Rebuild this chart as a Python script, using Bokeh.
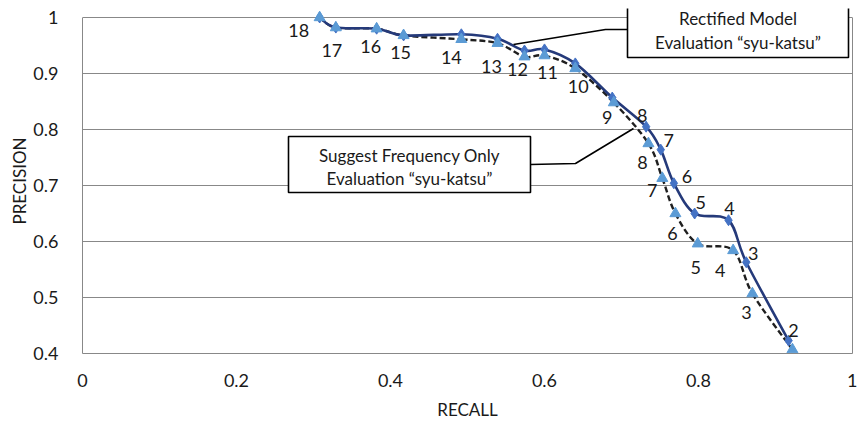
from bokeh.plotting import figure
from bokeh.models import ColumnDataSource, FixedTicker, LinearAxis, Range1d
from bokeh.core.properties import value
from bokeh.embed import file_html
from bokeh.resources import INLINE

# ---- data ----
labels = ["18", "17", "16", "15", "14", "13", "12", "11", "10", "9", "8", "7", "6", "5", "4", "3", "2"]
recall_rect = [0.308, 0.329, 0.382, 0.417, 0.492, 0.539, 0.574, 0.600, 0.640, 0.688, 0.732, 0.751, 0.768, 0.795, 0.839, 0.862, 0.917]
prec_rect = [1.000, 0.982, 0.980, 0.968, 0.970, 0.962, 0.941, 0.943, 0.918, 0.857, 0.805, 0.764, 0.704, 0.650, 0.638, 0.563, 0.423]
recall_sug = [0.308, 0.329, 0.382, 0.417, 0.492, 0.539, 0.574, 0.600, 0.640, 0.690, 0.735, 0.753, 0.770, 0.799, 0.845, 0.870, 0.922]
prec_sug = [1.000, 0.982, 0.980, 0.968, 0.961, 0.954, 0.930, 0.932, 0.909, 0.848, 0.775, 0.713, 0.650, 0.596, 0.584, 0.507, 0.407]
sug_label_names = ["8", "7", "6", "5", "4", "3"]
x_ticks = [0, 0.2, 0.4, 0.6, 0.8, 1]
x_tick_labels = ["0", "0.2", "0.4", "0.6", "0.8", "1"]
y_ticks = [0.4, 0.5, 0.6, 0.7, 0.8, 0.9, 1]
y_tick_labels = ["0.4", "0.5", "0.6", "0.7", "0.8", "0.9", "1"]
rect_title = ["Rectified Model", "Evaluation \u201csyu-katsu\u201d"]
sug_title = ["Suggest Frequency Only", "Evaluation \u201csyu-katsu\u201d"]

# label offsets (screen px)
rect_dx = [-21, -4, -6, -3, -10, -6, -7, 3, 3, -5, -4, 8, 13, 6, 1, 7, 5]
rect_dy = [13, 23, 18, 17, 23, 28, 19, 23, 23, 20, -11, -9, -7, -11, -12, -9, -10]
sug_dx = [-6, -10, -3, -2, -13, -6]
sug_dy = [19, 12, 20, 24, 20, 19]

FONT = "Lato"
GRAY = "#888888"
TXT = "#1a1a1a"

X0PX, XSCALE = 82.0, 770.0
Y0PX, YSCALE = 17.0, 560.0


def dx(px):
    return (px - X0PX) / XSCALE


def dy(py):
    return 1 - (py - Y0PX) / YSCALE


def smooth(xs, ys):
    n = len(xs)
    x0, y0, x1, y1, cx0, cy0, cx1, cy1 = [], [], [], [], [], [], [], []
    for i in range(n - 1):
        im = max(i - 1, 0)
        ip2 = min(i + 2, n - 1)
        x0.append(xs[i]); y0.append(ys[i])
        x1.append(xs[i + 1]); y1.append(ys[i + 1])
        cx0.append(xs[i] + (xs[i + 1] - xs[im]) / 6.0)
        cy0.append(ys[i] + (ys[i + 1] - ys[im]) / 6.0)
        cx1.append(xs[i + 1] - (xs[ip2] - xs[i]) / 6.0)
        cy1.append(ys[i + 1] - (ys[ip2] - ys[i]) / 6.0)
    return dict(x0=x0, y0=y0, x1=x1, y1=y1, cx0=cx0, cy0=cy0, cx1=cx1, cy1=cy1)


p = figure(frame_width=770, frame_height=345, output_backend="svg", toolbar_location=None,
           x_range=Range1d(0, 1), y_range=Range1d(0.4, 1 + 9 / YSCALE),
           min_border_left=82, min_border_right=5, min_border_top=8, min_border_bottom=79)
p.outline_line_color = None
p.background_fill_color = "white"
p.xgrid.grid_line_color = None
p.ygrid.grid_line_color = GRAY
p.ygrid.grid_line_width = 1
p.ygrid.ticker = FixedTicker(ticks=y_ticks)

for ax, ticks, labs in ((p.xaxis[0], x_ticks, x_tick_labels), (p.yaxis[0], y_ticks, y_tick_labels)):
    ax.ticker = FixedTicker(ticks=ticks)
    ax.major_label_overrides = {t: l for t, l in zip(ticks, labs)}
    ax.major_tick_line_color = None
    ax.minor_tick_line_color = None
    ax.axis_line_color = GRAY
    ax.axis_line_width = 1
    ax.major_label_text_font = FONT
    ax.major_label_text_font_size = "18px"
    ax.major_label_text_color = TXT
    ax.axis_label_text_font = FONT
    ax.axis_label_text_font_size = "17px"
    ax.axis_label_text_font_style = "normal"
    ax.axis_label_text_color = TXT

p.yaxis[0].bounds = (0.4, 1)
p.yaxis[0].axis_label = "PRECISION"
p.yaxis[0].major_label_standoff = 18
p.yaxis[0].axis_label_standoff = 0
p.xaxis[0].axis_label = "RECALL"
p.xaxis[0].major_label_standoff = 14
p.xaxis[0].axis_label_standoff = 9

right = LinearAxis(ticker=FixedTicker(ticks=[]), bounds=(0.4, 1), axis_line_color=GRAY,
                   major_tick_line_color=None, minor_tick_line_color=None,
                   major_label_text_font_size="0px", major_label_standoff=0)
p.add_layout(right, "right")

# curves
p.bezier(source=ColumnDataSource(smooth(recall_sug, prec_sug)), x0="x0", y0="y0", x1="x1", y1="y1",
         cx0="cx0", cy0="cy0", cx1="cx1", cy1="cy1", line_color="#1f1f1f", line_width=2.4,
         line_dash="6 3")
p.bezier(source=ColumnDataSource(smooth(recall_rect, prec_rect)), x0="x0", y0="y0", x1="x1", y1="y1",
         cx0="cx0", cy0="cy0", cx1="cx1", cy1="cy1", line_color="#253a7a", line_width=2.6)

p.scatter(recall_rect, prec_rect, marker="diamond", size=11, fill_color="#4472C4", line_color="#4472C4")
p.scatter(recall_sug, prec_sug, marker="triangle", size=11, fill_color="#5B9BD5", line_color="#5B9BD5")

# point labels
src_r = ColumnDataSource(dict(x=recall_rect, y=prec_rect, t=labels, dx=rect_dx, dy=rect_dy))
p.text(x="x", y="y", text="t", x_offset="dx", y_offset="dy", source=src_r,
       text_font=value(FONT), text_font_size="18px", text_color=TXT,
       text_align="center", text_baseline="middle")
n_s = len(sug_label_names)
src_s = ColumnDataSource(dict(x=recall_sug[10:10 + n_s], y=prec_sug[10:10 + n_s], t=sug_label_names,
                              dx=sug_dx, dy=sug_dy))
p.text(x="x", y="y", text="t", x_offset="dx", y_offset="dy", source=src_s,
       text_font=value(FONT), text_font_size="18px", text_color=TXT,
       text_align="center", text_baseline="middle")

# callouts
p.line([dx(513), dx(605), dx(627)], [dy(44), dy(29), dy(29)], line_color="black", line_width=1.6)
p.line([dx(530), dx(575), dx(633)], [dy(164), dy(163), dy(128)], line_color="black", line_width=1.6)
p.quad(left=[dx(627), dx(288)], right=[dx(848), dx(530)], top=[dy(-5), dy(136)], bottom=[dy(57), dy(192)],
       fill_color="white", line_color="black", line_width=1.6)
p.text(x=[dx(737.5), dx(737.5), dx(409), dx(409)], y=[dy(18), dy(42), dy(155), dy(178)],
       text=rect_title + sug_title,
       text_font=value(FONT), text_font_size="17px", text_color=TXT,
       text_align="center", text_baseline="middle")

open("out.html", "w").write(file_html(p, INLINE))
